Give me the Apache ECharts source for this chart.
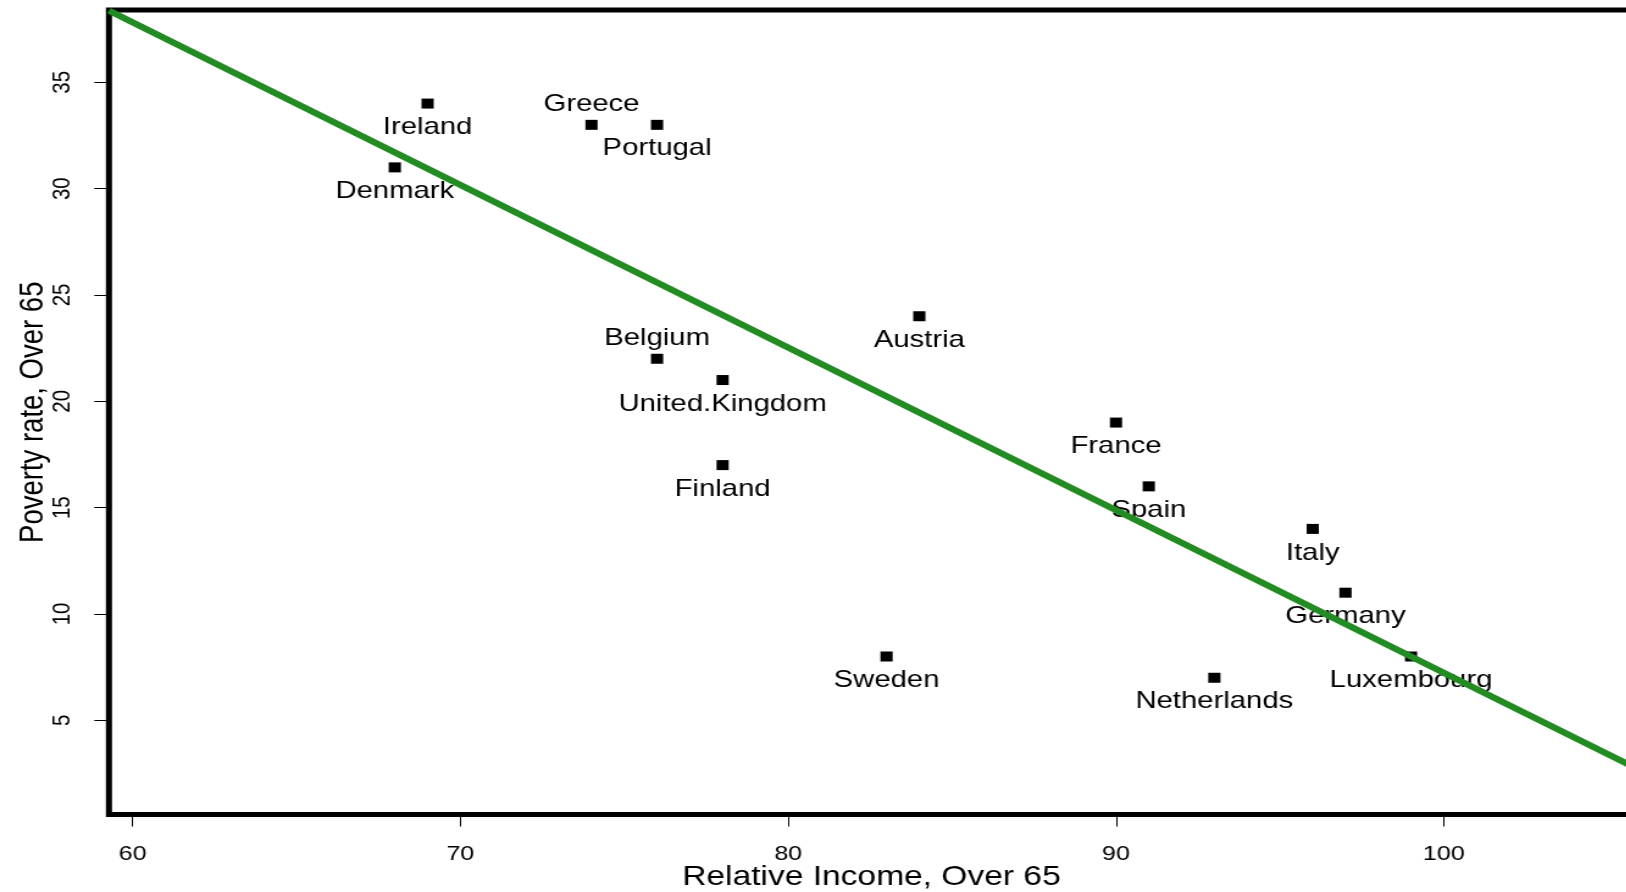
<!DOCTYPE html>
<html>
<head>
<meta charset="utf-8">
<title>Relative income and poverty rate, over 65</title>
<script src="https://cdn.jsdelivr.net/npm/echarts@6/dist/echarts.min.js"></script>
<style>
  html, body { margin: 0; padding: 0; background: #fff; overflow: hidden; }
  #wrap { width: 1626px; height: 892px; overflow: hidden; position: relative; }
  #chart { position: absolute; left: 0; top: 0; height: 892px; transform-origin: 0 0; }
</style>
</head>
<body>
<div id="wrap"><div id="chart"></div></div>
<script>
// Countries and their over-65 figures
const countries = ['Ireland', 'Greece', 'Portugal', 'Denmark', 'Austria', 'Belgium',
  'United.Kingdom', 'Finland', 'France', 'Spain', 'Italy', 'Germany', 'Luxembourg',
  'Sweden', 'Netherlands'];
const relativeIncome = [69, 74, 76, 68, 84, 76, 78, 78, 90, 91, 96, 97, 99, 83, 93];
const povertyRate = [34, 33, 33, 31, 24, 22, 21, 17, 19, 16, 14, 11, 8, 8, 7];

// Least-squares fit of poverty rate on relative income
const fitIntercept = 83.70;
const fitSlope = -0.7647;

// Tick marks
const xTicks = [60, 70, 80, 90, 100];
const yTicks = [5, 10, 15, 20, 25, 30, 35];

// Labels drawn above their point instead of below
const labelsAbove = ['Greece', 'Belgium'];

// Plot ranges
const xMin = 59.28, xMax = 105.8;
const yMin = 0.57, yMax = 38.4;

// The drawing is widened horizontally; the canvas runs past the right edge
// so the plot box's right side falls outside the visible area.
const STRETCH = 1.22;
const W = 1360;
const el = document.getElementById('chart');
el.style.width = W + 'px';
el.style.transform = 'scaleX(' + STRETCH + ')';

const FONT = "'Liberation Sans', Arial, Helvetica, sans-serif";

const points = countries.map((name, i) => {
  const above = labelsAbove.includes(name);
  return {
    name: name,
    value: [relativeIncome[i], povertyRate[i]],
    label: { position: above ? 'top' : 'bottom', distance: above ? 3 : 7 }
  };
});

const fitLine = [xMin, xMax].map(x => [x, fitIntercept + fitSlope * x]);

const chart = echarts.init(el, null, { renderer: 'canvas' });
chart.setOption({
  backgroundColor: '#fff',
  animation: false,
  grid: {
    left: 89.3, top: 10, width: 1250, height: 804.5,
    outerBoundsMode: 'none',
    containLabel: false,
    show: true, borderColor: '#000', borderWidth: 5, backgroundColor: 'transparent'
  },
  xAxis: {
    type: 'value', min: xMin, max: xMax,
    name: 'Relative Income, Over 65', nameLocation: 'middle', nameGap: 49,
    nameMoveOverlap: false,
    nameTextStyle: { fontFamily: FONT, fontSize: 27.5, color: '#000' },
    axisLine: { show: false },
    splitLine: { show: false },
    axisTick: { show: true, customValues: xTicks, length: 12, lineStyle: { color: '#000', width: 1 } },
    axisLabel: { customValues: xTicks, margin: 29, fontFamily: FONT, fontSize: 20.5, color: '#000' }
  },
  yAxis: {
    type: 'value', min: yMin, max: yMax,
    name: 'Poverty rate, Over 65', nameLocation: 'middle', nameGap: 48,
    nameMoveOverlap: false,
    nameTextStyle: { fontFamily: FONT, fontSize: 27.5, color: '#000' },
    axisLine: { show: false },
    splitLine: { show: false },
    axisTick: { show: true, customValues: yTicks, length: 12, lineStyle: { color: '#000', width: 1 } },
    axisLabel: { customValues: yTicks, rotate: 90, margin: 27, fontFamily: FONT, fontSize: 20.5, color: '#000' }
  },
  series: [
    {
      type: 'scatter',
      data: points,
      symbol: 'rect',
      symbolSize: 10,
      itemStyle: { color: '#000', opacity: 1 },
      label: {
        show: true,
        formatter: p => p.name,
        fontFamily: FONT, fontSize: 24, color: '#000', opacity: 1
      },
      z: 2
    },
    {
      type: 'line',
      data: fitLine,
      symbol: 'none',
      clip: true,
      lineStyle: { color: '#228B22', width: 6 },
      z: 3
    }
  ]
});
</script>
</body>
</html>
